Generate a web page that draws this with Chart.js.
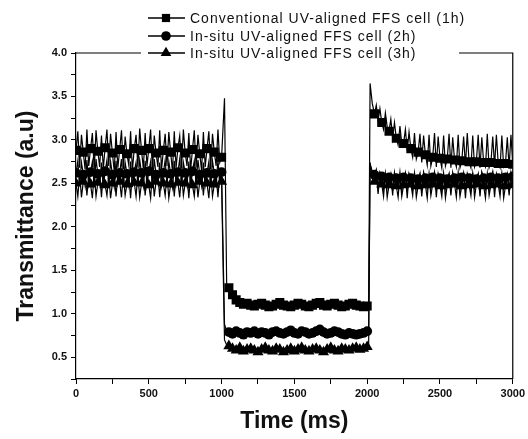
<!DOCTYPE html>
<html>
<head>
<meta charset="utf-8">
<script src="https://cdn.jsdelivr.net/npm/chart.js@4.4.1/dist/chart.umd.min.js"></script>
<style>
  html, body { margin: 0; padding: 0; background: #fff; }
  #wrap { width: 528px; height: 439px; }
</style>
</head>
<body>
<div id="wrap"><canvas id="myChart" width="528" height="439"></canvas></div>
<script>
// time axis (ms): fine sampling while the cell is on, coarser while off
const times = [
  0, 12.5, 25, 37.5, 50, 62.5, 75, 87.5,
  100, 112.5, 125, 137.5, 150, 162.5, 175, 187.5,
  200, 212.5, 225, 237.5, 250, 262.5, 275, 287.5,
  300, 312.5, 325, 337.5, 350, 362.5, 375, 387.5,
  400, 412.5, 425, 437.5, 450, 462.5, 475, 487.5,
  500, 512.5, 525, 537.5, 550, 562.5, 575, 587.5,
  600, 612.5, 625, 637.5, 650, 662.5, 675, 687.5,
  700, 712.5, 725, 737.5, 750, 762.5, 775, 787.5,
  800, 812.5, 825, 837.5, 850, 862.5, 875, 887.5,
  900, 912.5, 925, 937.5, 950, 962.5, 975, 987.5,
  1000,
  1020, 1035,
  1050, 1075, 1100, 1125, 1150, 1175, 1200, 1225, 1250, 1275, 1300, 1325, 1350, 1375, 1400, 1425, 1450, 1475,
  1500, 1525, 1550, 1575, 1600, 1625, 1650, 1675, 1700, 1725, 1750, 1775, 1800, 1825, 1850, 1875, 1900, 1925, 1950, 1975, 2000, 2010,
  2020, 2035,
  2050, 2062.5, 2075, 2087.5,
  2100, 2112.5, 2125, 2137.5, 2150, 2162.5, 2175, 2187.5,
  2200, 2212.5, 2225, 2237.5, 2250, 2262.5, 2275, 2287.5,
  2300, 2312.5, 2325, 2337.5, 2350, 2362.5, 2375, 2387.5,
  2400, 2412.5, 2425, 2437.5, 2450, 2462.5, 2475, 2487.5,
  2500, 2512.5, 2525, 2537.5, 2550, 2562.5, 2575, 2587.5,
  2600, 2612.5, 2625, 2637.5, 2650, 2662.5, 2675, 2687.5,
  2700, 2712.5, 2725, 2737.5, 2750, 2762.5, 2775, 2787.5,
  2800, 2812.5, 2825, 2837.5, 2850, 2862.5, 2875, 2887.5,
  2900, 2912.5, 2925, 2937.5, 2950, 2962.5, 2975, 2987.5,
  3000
];

const conv1h = [
  2.88, 3.10, 2.68, 3.06, 2.86, 2.66, 3.12, 2.70,
  2.90, 3.08, 2.65, 3.11, 2.87, 2.69, 3.05, 2.67,
  2.91, 3.12, 2.70, 3.07, 2.85, 2.64, 3.09, 2.68,
  2.89, 3.11, 2.66, 3.04, 2.84, 2.71, 3.10, 2.65,
  2.90, 3.06, 2.68, 3.13, 2.88, 2.67, 3.08, 2.70,
  2.90, 3.12, 2.65, 3.05, 2.85, 2.69, 3.11, 2.66,
  2.88, 3.07, 2.70, 3.09, 2.86, 2.64, 3.10, 2.68,
  2.91, 3.05, 2.67, 3.12, 2.85, 2.70, 3.08, 2.66,
  2.89, 3.11, 2.68, 3.06, 2.84, 2.65, 3.09, 2.69,
  2.90, 3.10, 2.66, 3.07, 2.86, 2.70, 3.12, 2.74,
  2.80,
  3.48, 1.32,
  1.30, 1.22, 1.16, 1.13, 1.11, 1.12, 1.10, 1.09, 1.11, 1.12, 1.10, 1.08, 1.09, 1.11, 1.13, 1.10, 1.09, 1.08, 1.10, 1.12,
  1.11, 1.09, 1.08, 1.10, 1.12, 1.13, 1.10, 1.09, 1.11, 1.12, 1.10, 1.08, 1.09, 1.11, 1.12, 1.10, 1.09, 1.08, 1.09, 1.09,
  3.65, 3.42,
  3.30, 3.40, 3.22, 3.36,
  3.20, 3.12, 3.31, 3.15, 3.10, 3.24, 3.02, 3.20,
  3.02, 2.94, 3.16, 2.96, 2.96, 3.12, 2.88, 3.09,
  2.90, 2.80, 3.08, 2.78, 2.86, 3.07, 2.74, 3.05,
  2.83, 2.71, 3.06, 2.70, 2.80, 3.08, 2.69, 3.04,
  2.79, 2.68, 3.05, 2.70, 2.78, 3.07, 2.68, 3.03,
  2.77, 2.69, 3.06, 2.68, 2.76, 3.04, 2.70, 3.08,
  2.75, 2.68, 3.05, 2.69, 2.75, 3.06, 2.68, 3.03,
  2.74, 2.69, 3.07, 2.68, 2.74, 3.04, 2.70, 3.06,
  2.73, 2.68, 3.05, 2.69, 2.73, 3.03, 2.68, 3.06,
  2.72
];

const situ2h = [
  2.62, 2.76, 2.48, 2.74, 2.60, 2.47, 2.77, 2.49,
  2.63, 2.75, 2.46, 2.78, 2.61, 2.49, 2.74, 2.47,
  2.64, 2.77, 2.48, 2.75, 2.60, 2.46, 2.76, 2.50,
  2.62, 2.78, 2.47, 2.74, 2.61, 2.48, 2.75, 2.46,
  2.63, 2.74, 2.49, 2.77, 2.62, 2.47, 2.76, 2.48,
  2.64, 2.75, 2.46, 2.78, 2.60, 2.50, 2.74, 2.47,
  2.62, 2.77, 2.48, 2.75, 2.61, 2.46, 2.76, 2.49,
  2.63, 2.78, 2.47, 2.74, 2.62, 2.48, 2.75, 2.46,
  2.64, 2.76, 2.49, 2.77, 2.60, 2.47, 2.74, 2.48,
  2.62, 2.75, 2.46, 2.76, 2.61, 2.49, 2.77, 2.50,
  2.63,
  0.88, 0.80,
  0.79, 0.77, 0.80, 0.78, 0.76, 0.79, 0.78, 0.80, 0.77, 0.79, 0.78, 0.76, 0.79, 0.80, 0.78, 0.77, 0.79, 0.81, 0.78, 0.77,
  0.80, 0.79, 0.77, 0.78, 0.80, 0.82, 0.79, 0.77, 0.78, 0.80, 0.79, 0.77, 0.76, 0.78, 0.77, 0.76, 0.77, 0.78, 0.80, 0.79,
  2.72, 2.64,
  2.60, 2.66, 2.45, 2.63,
  2.58, 2.44, 2.62, 2.46, 2.57, 2.61, 2.43, 2.62,
  2.56, 2.45, 2.63, 2.42, 2.57, 2.62, 2.44, 2.61,
  2.56, 2.43, 2.62, 2.45, 2.55, 2.61, 2.42, 2.63,
  2.56, 2.44, 2.62, 2.43, 2.57, 2.63, 2.45, 2.61,
  2.56, 2.42, 2.62, 2.44, 2.55, 2.61, 2.43, 2.62,
  2.56, 2.45, 2.63, 2.42, 2.57, 2.62, 2.44, 2.61,
  2.56, 2.43, 2.62, 2.45, 2.55, 2.61, 2.42, 2.63,
  2.56, 2.44, 2.62, 2.43, 2.57, 2.63, 2.45, 2.61,
  2.56, 2.42, 2.62, 2.44, 2.57, 2.61, 2.43, 2.62,
  2.58
];

const situ3h = [
  2.50, 2.35, 2.61, 2.34, 2.52, 2.62, 2.36, 2.60,
  2.49, 2.33, 2.63, 2.35, 2.51, 2.61, 2.34, 2.62,
  2.48, 2.36, 2.60, 2.33, 2.50, 2.63, 2.35, 2.61,
  2.52, 2.34, 2.62, 2.36, 2.49, 2.60, 2.33, 2.63,
  2.51, 2.35, 2.61, 2.34, 2.50, 2.62, 2.36, 2.60,
  2.48, 2.33, 2.63, 2.35, 2.52, 2.61, 2.34, 2.62,
  2.50, 2.36, 2.60, 2.33, 2.49, 2.63, 2.35, 2.61,
  2.51, 2.34, 2.62, 2.36, 2.50, 2.60, 2.33, 2.63,
  2.48, 2.35, 2.61, 2.34, 2.52, 2.62, 2.36, 2.60,
  2.50, 2.33, 2.63, 2.35, 2.49, 2.61, 2.34, 2.62,
  2.52,
  0.70, 0.64,
  0.63, 0.60, 0.58, 0.61, 0.57, 0.59, 0.60, 0.58, 0.56, 0.59, 0.61, 0.58, 0.57, 0.60, 0.59, 0.56, 0.58, 0.60, 0.57, 0.59,
  0.61, 0.58, 0.57, 0.59, 0.60, 0.58, 0.56, 0.59, 0.61, 0.58, 0.57, 0.60, 0.59, 0.58, 0.60, 0.61, 0.59, 0.60, 0.62, 0.61,
  2.74, 2.58,
  2.52, 2.62, 2.38, 2.60,
  2.49, 2.35, 2.61, 2.34, 2.48, 2.60, 2.36, 2.62,
  2.47, 2.34, 2.60, 2.35, 2.48, 2.61, 2.33, 2.60,
  2.49, 2.36, 2.62, 2.34, 2.47, 2.60, 2.35, 2.61,
  2.48, 2.33, 2.60, 2.36, 2.49, 2.62, 2.34, 2.60,
  2.47, 2.35, 2.61, 2.33, 2.48, 2.60, 2.36, 2.62,
  2.49, 2.34, 2.60, 2.35, 2.47, 2.61, 2.33, 2.60,
  2.48, 2.36, 2.62, 2.34, 2.49, 2.60, 2.35, 2.61,
  2.47, 2.33, 2.60, 2.36, 2.48, 2.62, 2.34, 2.60,
  2.49, 2.35, 2.61, 2.33, 2.47, 2.60, 2.36, 2.62,
  2.48
];

const seriesNames = [
  "Conventional UV-aligned FFS cell (1h)",
  "In-situ UV-aligned FFS cell (2h)",
  "In-situ UV-aligned FFS cell (3h)"
];

const FONT = '"Liberation Sans", Arial, sans-serif';

function pts(vals) {
  return times.map((t, i) => ({ x: t, y: vals[i] }));
}

// a marker every 50 ms while on, every 25 ms in the dark state
function markerRule(r) {
  return ctx => {
    const x = ctx.raw ? ctx.raw.x : -1;
    const dark = x > 1040 && x < 2015;
    return (dark ? x % 25 === 0 : x % 50 === 0) ? r : 0;
  };
}

function makeSet(label, vals, style, r) {
  return {
    label: label,
    data: pts(vals),
    borderColor: '#000',
    backgroundColor: '#000',
    borderWidth: 1.2,
    pointStyle: style,
    pointRadius: markerRule(r),
    pointHoverRadius: 0,
    pointBorderWidth: 0,
    tension: 0
  };
}

const frameAndLegend = {
  id: 'frameAndLegend',
  afterDraw(chart) {
    const ctx = chart.ctx;
    const a = chart.chartArea;
    ctx.save();
    // top and right edges of the frame
    ctx.strokeStyle = '#000';
    ctx.lineWidth = 1.2;
    ctx.beginPath();
    ctx.moveTo(a.left, a.top);
    ctx.lineTo(a.right, a.top);
    ctx.lineTo(a.right, a.bottom);
    ctx.stroke();

    // legend box sitting over the top edge
    ctx.fillStyle = '#fff';
    ctx.fillRect(141, 0, 318, 62);
    const rows = [18, 36, 53];
    const radii = [5.8, 4.8, 6.2];
    chart.data.datasets.forEach((ds, i) => {
      const y = rows[i];
      ctx.strokeStyle = '#000';
      ctx.lineWidth = 1.3;
      ctx.beginPath();
      ctx.moveTo(148, y);
      ctx.lineTo(185, y);
      ctx.stroke();
      ctx.fillStyle = '#000';
      Chart.helpers.drawPoint(ctx, { pointStyle: ds.pointStyle, radius: radii[i], rotation: 0, borderWidth: 0 }, 166, y);
      ctx.font = '14px ' + FONT;
      ctx.letterSpacing = '1px';
      ctx.textBaseline = 'middle';
      ctx.textAlign = 'left';
      ctx.fillStyle = '#111';
      ctx.fillText(ds.label, 190, y + 1);
    });
    ctx.restore();
  }
};

const config = {
  type: 'line',
  data: {
    datasets: [
      makeSet(seriesNames[0], conv1h, 'rect', 6.4),
      makeSet(seriesNames[1], situ2h, 'circle', 4.9),
      makeSet(seriesNames[2], situ3h, 'triangle', 6.4)
    ]
  },
  options: {
    responsive: false,
    animation: false,
    events: [],
    layout: { padding: { top: 53, right: 13, left: 0, bottom: 0 } },
    plugins: {
      legend: { display: false },
      tooltip: { enabled: false }
    },
    scales: {
      x: {
        type: 'linear',
        min: 0,
        max: 3000,
        afterFit: s => { s.height = 60; },
        ticks: {
          stepSize: 250,
          autoSkip: false,
          maxRotation: 0,
          padding: 3,
          color: '#111',
          font: { family: FONT, size: 11, weight: 'bold' },
          callback: v => (v % 500 === 0 ? String(v) : '')
        },
        grid: { drawOnChartArea: false, tickLength: 5, tickColor: '#000', tickWidth: 1 },
        border: { color: '#000', width: 1.2 },
        title: {
          display: true,
          text: 'Time (ms)',
          color: '#111',
          font: { family: FONT, size: 23, weight: 'bold' },
          padding: { top: 0, bottom: 4 }
        }
      },
      y: {
        type: 'linear',
        min: 0.25,
        max: 4.0,
        afterFit: s => { s.width = 76; },
        ticks: {
          stepSize: 0.25,
          autoSkip: false,
          padding: 4,
          color: '#111',
          font: { family: FONT, size: 11, weight: 'bold' },
          callback: v => (Math.abs(v * 2 - Math.round(v * 2)) < 1e-6 ? v.toFixed(1) : '')
        },
        grid: { drawOnChartArea: false, tickLength: 5, tickColor: '#000', tickWidth: 1 },
        border: { color: '#000', width: 1.2 },
        title: {
          display: true,
          text: 'Transmittance (a.u)',
          color: '#111',
          font: { family: FONT, size: 23, weight: 'bold' },
          padding: { top: 13, bottom: 0 }
        }
      }
    }
  },
  plugins: [frameAndLegend]
};

const myChart = new Chart(document.getElementById('myChart'), config);
</script>
</body>
</html>
